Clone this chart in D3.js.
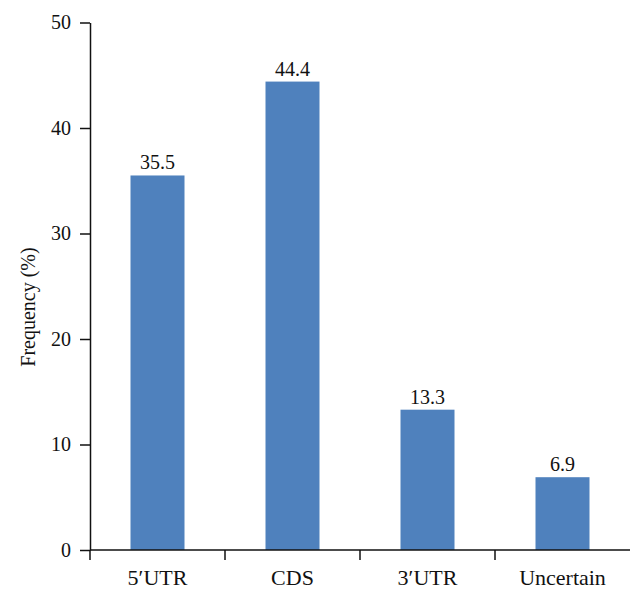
<!DOCTYPE html>
<html>
<head>
<meta charset="utf-8">
<script src="https://cdn.jsdelivr.net/npm/d3@7"></script>
<style>
  body { margin: 0; background: #fff; }
</style>
</head>
<body>
<div id="chart"></div>
<script>
// frequency of site location by region
const categories = ['5\u2032UTR', 'CDS', '3\u2032UTR', 'Uncertain'];
const values = [35.5, 44.4, 13.3, 6.9];
const yTicks = [0, 10, 20, 30, 40, 50];

const width = 644;
const height = 601;
const margin = {top: 22.5, right: 14, bottom: 51, left: 90};
const font = '"Liberation Serif"';

const svg = d3.select('#chart')
  .append('svg')
    .attr('width', width)
    .attr('height', height);

const x = d3.scaleBand()
    .domain(categories)
    .range([margin.left, width - margin.right])
    .paddingInner(0.6)
    .paddingOuter(0.3);

const y = d3.scaleLinear()
    .domain([0, 50])
    .range([height - margin.bottom, margin.top]);

// bars
svg.append('g')
  .selectAll('rect')
  .data(values)
  .join('rect')
    .attr('x', (d, i) => x(categories[i]))
    .attr('y', d => y(d))
    .attr('width', x.bandwidth())
    .attr('height', d => y(0) - y(d))
    .attr('fill', '#4f81bd');

// value labels
svg.append('g')
  .selectAll('text')
  .data(values)
  .join('text')
    .attr('x', (d, i) => x(categories[i]) + x.bandwidth() / 2)
    .attr('y', d => y(d) - 6)
    .attr('text-anchor', 'middle')
    .attr('fill', '#111')
    .style('font-family', font)
    .style('font-size', '20px')
    .text(d => d.toFixed(1));

// y axis
const yAxis = svg.append('g')
    .attr('transform', `translate(${margin.left},0)`)
    .call(d3.axisLeft(y).tickValues(yTicks).tickSize(10).tickSizeOuter(0).tickPadding(9));
yAxis.selectAll('path, line').attr('stroke', '#111').attr('stroke-width', 1.5);
yAxis.selectAll('text')
    .attr('fill', '#111')
    .style('font-family', font)
    .style('font-size', '20px');

// x axis labels
const xAxis = svg.append('g')
    .attr('transform', `translate(0,${y(0)})`)
    .call(d3.axisBottom(x).tickSize(0).tickPadding(19));
xAxis.select('.domain')
    .attr('d', `M${margin.left},0H${width - margin.right}`)
    .attr('stroke', '#111')
    .attr('stroke-width', 1.5);
xAxis.selectAll('text')
    .attr('fill', '#111')
    .style('font-family', font)
    .style('font-size', '22px');

// x ticks at band boundaries
xAxis.append('g')
  .selectAll('line')
  .data(d3.range(categories.length))
  .join('line')
    .attr('x1', i => x.range()[0] + i * x.step())
    .attr('x2', i => x.range()[0] + i * x.step())
    .attr('y1', 0)
    .attr('y2', 10)
    .attr('stroke', '#111')
    .attr('stroke-width', 1.5);

// y axis title
svg.append('text')
    .attr('transform', 'translate(35,307) rotate(-90)')
    .attr('text-anchor', 'middle')
    .attr('fill', '#111')
    .style('font-family', font)
    .style('font-size', '20px')
    .text('Frequency (%)');
</script>
</body>
</html>
